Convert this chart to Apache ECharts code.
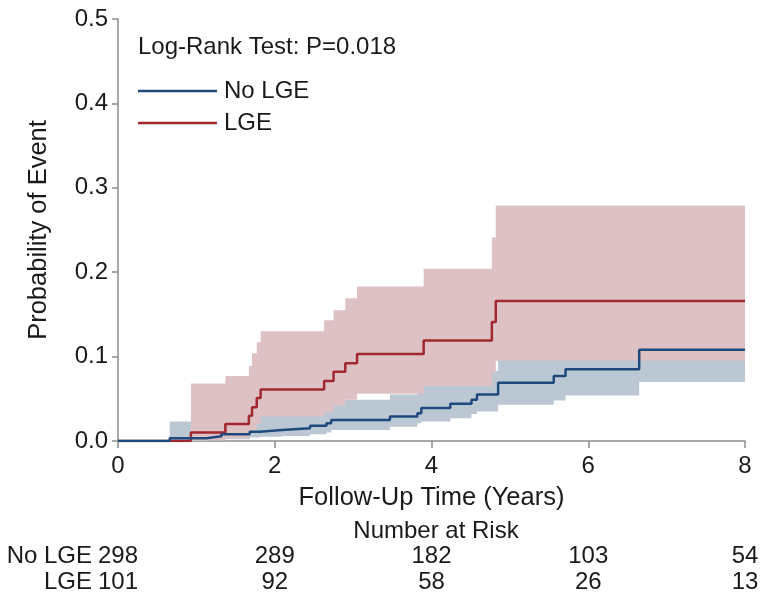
<!DOCTYPE html>
<html>
<head>
<meta charset="utf-8">
<script src="https://cdn.jsdelivr.net/npm/echarts@6/dist/echarts.min.js"></script>
<style>
  html, body { margin: 0; padding: 0; background: #fff; }
  #chart { width: 761px; height: 596px; }
</style>
</head>
<body>
<div id="chart"></div>
<script>
// Cumulative incidence (1 - KM) with 95% confidence bands, by LGE status.
// Each curve: step times (years), estimate, lower and upper confidence limits.
const noLgeTimes = [0, 0.66, 1.13, 1.32, 1.68, 1.81, 2.09, 2.45, 2.66, 2.72, 3.47, 3.82, 3.87, 4.24, 4.51, 4.58, 4.85, 5.56, 5.71, 6.65, 8];
const noLgeEst   = [0, 0.0033, 0.0056, 0.008, 0.011, 0.013, 0.015, 0.018, 0.021, 0.025, 0.029, 0.033, 0.039, 0.044, 0.049, 0.055, 0.069, 0.077, 0.085, 0.108, 0.108];
const noLgeLower = [0, 0, 0.001, 0.002, 0.004, 0.005, 0.006, 0.008, 0.010, 0.013, 0.017, 0.021, 0.023, 0.027, 0.032, 0.035, 0.043, 0.048, 0.054, 0.070, 0.070];
const noLgeUpper = [0, 0.023, 0.024, 0.025, 0.029, 0.033, 0.037, 0.041, 0.045, 0.049, 0.055, 0.060, 0.066, 0.070, 0.075, 0.083, 0.098, 0.106, 0.115, 0.140, 0.140];

const lgeTimes = [0, 0.93, 1.37, 1.67, 1.71, 1.77, 1.82, 2.63, 2.75, 2.90, 3.05, 3.90, 4.77, 4.82, 8];
const lgeEst   = [0, 0.010, 0.020, 0.030, 0.040, 0.051, 0.061, 0.071, 0.082, 0.092, 0.103, 0.119, 0.141, 0.166, 0.166];
const lgeLower = [0, 0.001, 0.003, 0.008, 0.013, 0.020, 0.029, 0.034, 0.042, 0.049, 0.056, 0.065, 0.081, 0.095, 0.095];
const lgeUpper = [0, 0.068, 0.077, 0.089, 0.104, 0.117, 0.130, 0.143, 0.155, 0.169, 0.183, 0.204, 0.241, 0.279, 0.279];

// Number-at-risk table
const riskTimes = [0, 2, 4, 6, 8];
const riskGroups = ['No LGE', 'LGE'];
const riskNoLge = [298, 289, 182, 103, 54];
const riskLge   = [101, 92, 58, 26, 13];

const xTicks = { min: 0, max: 8, interval: 2 };
const yTicks = { min: 0, max: 0.5, interval: 0.1 };

const FONT = '"Liberation Sans", Arial, Helvetica, sans-serif';
const FS = 24;
const FS_NAME = 25.5;
const TEXT = '#1a1a1a';
const AXIS = '#8c8c8c';
const BLUE = '#1f4a7c';
const RED = '#a0282e';
const BLUE_BAND = '#bbc8d4';
const RED_BAND = '#dec1c5';

const pairs = (xs, ys) => xs.map((x, i) => [x, ys[i]]);

// Confidence band drawn as one stepped polygon: upper limit left-to-right,
// then lower limit right-to-left, each point mapped through the axes.
function bandSeries(name, times, lo, hi, color) {
  return {
    name: name, type: 'custom', silent: true,
    data: [[times[0], lo[0]]],
    renderItem: function (params, api) {
      const pts = [];
      for (let i = 0; i < times.length - 1; i++) {
        pts.push(api.coord([times[i], hi[i]]));
        pts.push(api.coord([times[i + 1], hi[i]]));
      }
      for (let i = times.length - 2; i >= 0; i--) {
        pts.push(api.coord([times[i + 1], lo[i]]));
        pts.push(api.coord([times[i], lo[i]]));
      }
      return { type: 'polygon', shape: { points: pts }, style: { fill: color } };
    }
  };
}

const riskData = [];
riskTimes.forEach((t, i) => {
  riskData.push([t, 0, riskNoLge[i]]);
  riskData.push([t, 1, riskLge[i]]);
});

const chart = echarts.init(document.getElementById('chart'), null, { renderer: 'canvas' });
chart.setOption({
  animation: false,
  backgroundColor: '#ffffff',
  textStyle: { fontFamily: FONT, color: TEXT },
  title: [
    {
      text: 'Log-Rank Test: P=0.018', left: 133, top: 30,
      textStyle: { fontFamily: FONT, fontSize: FS, fontWeight: 'normal', color: TEXT, lineHeight: FS }
    },
    {
      text: 'Number at Risk', left: 431, top: 514, textAlign: 'center',
      textStyle: { fontFamily: FONT, fontSize: FS, fontWeight: 'normal', color: TEXT, lineHeight: FS }
    }
  ],
  legend: {
    data: ['No LGE', 'LGE'],
    orient: 'vertical', left: 138, top: 79, padding: 0,
    icon: 'rect', itemWidth: 79, itemHeight: 2.5, itemGap: 8,
    textStyle: { fontFamily: FONT, fontSize: FS, color: TEXT, lineHeight: FS, padding: [0, 0, 0, 2] },
    selectedMode: false
  },
  grid: [
    { left: 118, right: 16, top: 19, bottom: 155 },
    { left: 118, right: 16, top: 543, height: 52 }
  ],
  xAxis: [
    {
      gridIndex: 0, type: 'value', min: xTicks.min, max: xTicks.max, interval: xTicks.interval,
      name: 'Follow-Up Time (Years)', nameLocation: 'middle', nameGap: 44,
      nameTextStyle: { fontFamily: FONT, fontSize: FS_NAME, color: TEXT },
      axisLine: { show: true, lineStyle: { color: AXIS, width: 1.5 } },
      axisTick: { show: true, length: 7, lineStyle: { color: AXIS, width: 1.5 } },
      axisLabel: { fontFamily: FONT, fontSize: FS, color: TEXT, margin: 13 },
      splitLine: { show: false }
    },
    {
      gridIndex: 1, type: 'value', min: xTicks.min, max: xTicks.max, show: false
    }
  ],
  yAxis: [
    {
      gridIndex: 0, type: 'value', min: yTicks.min, max: yTicks.max, interval: yTicks.interval,
      name: 'Probability of Event', nameLocation: 'middle', nameGap: 66, nameRotate: 90,
      nameTextStyle: { fontFamily: FONT, fontSize: FS_NAME, color: TEXT },
      axisLine: { show: true, lineStyle: { color: AXIS, width: 1.5 } },
      axisTick: { show: true, length: 6, lineStyle: { color: AXIS, width: 1.5 } },
      axisLabel: { fontFamily: FONT, fontSize: FS, color: TEXT, margin: 10, formatter: v => v.toFixed(1) },
      splitLine: { show: false }
    },
    {
      gridIndex: 1, type: 'category', data: riskGroups, inverse: true,
      axisLine: { show: false }, axisTick: { show: false }, splitLine: { show: false },
      axisLabel: { fontFamily: FONT, fontSize: FS, color: TEXT, margin: 26, interval: 0 }
    }
  ],
  series: [
    bandSeries('No LGE CI', noLgeTimes, noLgeLower, noLgeUpper, BLUE_BAND),
    bandSeries('LGE CI', lgeTimes, lgeLower, lgeUpper, RED_BAND),
    {
      name: 'LGE', type: 'line', step: 'end', data: pairs(lgeTimes, lgeEst),
      symbol: 'none', color: RED, lineStyle: { color: RED, width: 2.5 }
    },
    {
      name: 'No LGE', type: 'line', step: 'end', data: pairs(noLgeTimes, noLgeEst),
      symbol: 'none', color: BLUE, lineStyle: { color: BLUE, width: 2.5 }
    },
    {
      name: 'at risk', type: 'custom', xAxisIndex: 1, yAxisIndex: 1, silent: true,
      data: riskData,
      renderItem: function (params, api) {
        const p = api.coord([api.value(0), api.value(1)]);
        return {
          type: 'text', x: p[0], y: p[1],
          style: {
            text: String(api.value(2)), align: 'center', verticalAlign: 'middle',
            fontFamily: FONT, fontSize: FS, fill: TEXT
          }
        };
      }
    }
  ]
});
</script>
</body>
</html>
